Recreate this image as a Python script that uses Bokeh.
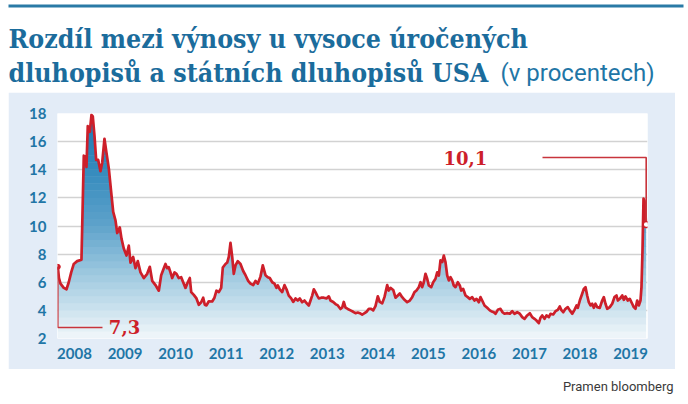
import numpy as np
from bokeh.plotting import figure
from bokeh.layouts import column, row
from bokeh.models import Range1d, FixedTicker, Label, Spacer
from bokeh.core.properties import value
from bokeh.embed import file_html
from bokeh.resources import INLINE

# ---------------- data ----------------
dates = [
    2007.670, 2007.693, 2007.723, 2007.788, 2007.842, 2007.887, 2007.935, 2007.986, 2008.053, 2008.138,
    2008.184, 2008.218, 2008.237, 2008.263, 2008.303, 2008.336, 2008.362, 2008.396, 2008.429, 2008.469,
    2008.514, 2008.548, 2008.593, 2008.633, 2008.679, 2008.726, 2008.766, 2008.811, 2008.845, 2008.896,
    2008.930, 2008.975, 2009.029, 2009.074, 2009.108, 2009.161, 2009.207, 2009.252, 2009.306, 2009.371,
    2009.438, 2009.490, 2009.537, 2009.602, 2009.668, 2009.715,
    2009.767, 2009.800, 2009.834, 2009.865, 2009.899, 2009.933, 2009.978, 2010.018, 2010.063, 2010.111,
    2010.150, 2010.196, 2010.241, 2010.281, 2010.309, 2010.360, 2010.413, 2010.459, 2010.506, 2010.546,
    2010.578, 2010.611, 2010.657, 2010.724, 2010.769, 2010.809, 2010.855, 2010.902, 2010.934, 2010.987,
    2011.021, 2011.052, 2011.086, 2011.120, 2011.151, 2011.185, 2011.230, 2011.284, 2011.337, 2011.383,
    2011.436, 2011.482, 2011.535, 2011.581, 2011.626, 2011.679, 2011.725, 2011.778, 2011.824, 2011.863,
    2011.911, 2011.956, 2011.996, 2012.022, 2012.061, 2012.109, 2012.154, 2012.194, 2012.239, 2012.287,
    2012.326, 2012.372, 2012.417, 2012.457, 2012.504, 2012.550, 2012.603, 2012.635, 2012.669, 2012.702,
    2012.734, 2012.767, 2012.801, 2012.833, 2012.880, 2012.932, 2012.985, 2013.031, 2013.064, 2013.118,
    2013.163, 2013.209, 2013.262, 2013.296, 2013.327, 2013.361, 2013.406, 2013.460, 2013.513, 2013.559,
    2013.604, 2013.644, 2013.691, 2013.737, 2013.776, 2013.822, 2013.869, 2013.909, 2013.954, 2014.000,
    2014.039, 2014.087,
    2014.132, 2014.186, 2014.217, 2014.251, 2014.305, 2014.350, 2014.396, 2014.435, 2014.482, 2014.528,
    2014.581, 2014.633, 2014.680, 2014.726, 2014.765, 2014.811, 2014.845, 2014.878, 2014.910, 2014.943,
    2014.977, 2015.009, 2015.056, 2015.096, 2015.141, 2015.175, 2015.207, 2015.240, 2015.274, 2015.306,
    2015.339, 2015.373, 2015.405, 2015.438, 2015.472, 2015.503, 2015.537, 2015.582, 2015.622, 2015.650,
    2015.689, 2015.735, 2015.780, 2015.820, 2015.867, 2015.913, 2015.952, 2015.998, 2016.031, 2016.065,
    2016.111, 2016.164, 2016.216,
    2016.243, 2016.295, 2016.328, 2016.374, 2016.427, 2016.467, 2016.506, 2016.560, 2016.611, 2016.659,
    2016.704, 2016.758, 2016.809, 2016.856, 2016.902, 2016.955, 2017.007, 2017.054, 2017.100, 2017.139,
    2017.185, 2017.218, 2017.252, 2017.298, 2017.337, 2017.383, 2017.416, 2017.470, 2017.515, 2017.561,
    2017.600, 2017.628, 2017.668, 2017.713, 2017.758, 2017.798, 2017.846, 2017.891, 2017.931, 2017.956,
    2017.996, 2018.043, 2018.075, 2018.109, 2018.142, 2018.174, 2018.207, 2018.241, 2018.273, 2018.306,
    2018.340, 2018.391,
    2018.439, 2018.471, 2018.504, 2018.538, 2018.589, 2018.637, 2018.682, 2018.722, 2018.748, 2018.787,
    2018.835, 2018.866, 2018.900, 2018.945, 2018.985, 2019.032, 2019.064, 2019.098, 2019.131, 2019.163,
    2019.196, 2019.216, 2019.236, 2019.256, 2019.276, 2019.309,
]
spread = [
    7.1, 6.3, 5.9, 5.6, 5.5, 6.0, 6.7, 7.3, 7.5, 7.6,
    15.0, 14.9, 14.2, 17.1, 16.7, 17.9, 17.8, 16.4, 14.7, 14.7,
    13.9, 14.5, 16.2, 15.2, 14.1, 12.4, 11.0, 10.4, 9.5, 9.9,
    9.1, 8.4, 7.9, 8.6, 7.4, 7.8, 7.0, 7.5, 6.7, 6.3,
    6.6, 7.1, 6.1, 5.8, 5.4, 6.5,
    7.0, 7.3, 7.0, 7.07, 6.7, 6.3, 6.7, 6.6, 6.3, 6.36,
    6.0, 5.6, 6.0, 6.3, 5.3, 5.1, 4.85, 4.4, 4.58, 4.9,
    4.4, 4.35, 4.65, 4.63, 4.9, 5.4, 5.3, 5.6, 7.05, 7.3,
    7.4, 7.8, 8.8, 7.8, 6.6, 7.2, 7.5, 7.3, 6.8, 6.5,
    6.1, 5.9, 5.8, 6.1, 5.9, 6.4, 7.2, 6.5, 6.36, 6.3,
    6.0, 5.9, 5.6, 5.77, 5.5, 5.3, 5.8, 5.5, 5.05, 4.85,
    4.6, 4.85, 4.7, 4.85, 4.58, 4.7, 4.47, 4.35, 4.7, 5.05,
    5.5, 5.3, 5.05, 4.85, 4.9, 4.9, 4.85, 5.0, 4.7, 4.6,
    4.45, 4.35, 4.1, 4.2, 4.6, 4.2, 4.1, 4.0, 3.9, 3.8,
    3.85, 3.8, 3.7, 3.8, 3.9, 4.1, 4.1, 4.0, 4.3, 5.0,
    4.6, 4.5,
    4.94, 5.8, 5.41, 5.6, 5.45, 4.9, 5.06, 5.2, 4.94, 4.75,
    4.58, 4.7, 4.94, 5.3, 5.41, 5.65, 6.0, 5.65, 6.0, 6.6,
    6.25, 5.77, 5.65, 6.0, 6.25, 6.7, 6.48, 7.55, 7.43, 7.9,
    7.43, 6.48, 6.13, 6.36, 6.13, 5.77, 5.65, 6.0, 5.77, 5.41,
    5.53, 5.06, 4.94, 4.82, 4.94, 4.7, 4.82, 4.58, 4.94, 4.7,
    4.35, 4.18, 4.0,
    3.94, 3.87, 3.76, 4.04, 4.11, 3.87, 3.76, 3.8, 3.76, 3.94,
    3.76, 3.87, 3.76, 3.52, 3.4, 3.64, 3.8, 3.52, 3.4, 3.28,
    3.09, 3.47, 3.64, 3.4, 3.64, 3.52, 3.76, 3.71, 3.94, 4.04,
    4.28, 4.04, 3.87, 4.11, 4.23, 4.0, 3.76, 4.04, 4.35, 4.18,
    4.7, 5.18, 5.53, 5.65, 5.06, 4.58, 4.35, 4.47, 4.18, 4.47,
    4.23, 4.18,
    4.7, 4.94, 4.47, 4.11, 4.23, 4.47, 4.94, 5.06, 4.7, 4.82,
    5.06, 4.75, 4.99, 4.7, 4.82, 4.47, 4.23, 4.11, 4.7, 4.35,
    4.7, 5.65, 8.26, 11.94, 11.8, 10.1,
]
year_ticks = list(range(2008, 2020))
value_ticks = list(range(2, 20, 2))
start_label = "7,3"
end_label = "10,1"
title_line1 = "Rozdíl mezi výnosy u vysoce úročených"
title_line2 = "dluhopisů a státních dluhopisů USA"
title_unit = "(v procentech)"
source_text = "Pramen bloomberg"

# ---------------- styling ----------------
RED = "#cd1f2a"
LEADER = "#c8343c"
BLUE_TXT = "#1f76a6"
TITLE_BLUE = "#1b6c9c"
PANEL = "#e3ecf7"


def blank(width, height, x_end, y_end):
    f = figure(width=width, height=height, output_backend="svg", toolbar_location=None, title=None,
               x_range=Range1d(0, x_end), y_range=Range1d(y_end, 0),
               x_axis_type=None, y_axis_type=None, min_border=0)
    f.outline_line_color = None
    f.background_fill_color = "white"
    f.border_fill_color = "white"
    f.xgrid.visible = False
    f.ygrid.visible = False
    return f


# ---------------- heading ----------------
head = blank(688, 92, 688, 92)
head.quad(left=[8], right=[683], top=[4], bottom=[7], fill_color="#2a7aa6", line_color=None)
head.text(x=[8], y=[38], text=[title_line1], text_font=value("DejaVu Serif Condensed"),
          text_font_style="bold", text_font_size="26.5px", text_color=TITLE_BLUE,
          text_baseline="alphabetic", text_align="left")
head.text(x=[8], y=[72], text=[title_line2], text_font=value("DejaVu Serif Condensed"),
          text_font_style="bold", text_font_size="26.5px", text_color=TITLE_BLUE,
          text_baseline="alphabetic", text_align="left")
head.text(x=[500], y=[72], text=[title_unit], text_font=value("Roboto"),
          text_font_size="24px", text_color=BLUE_TXT,
          text_baseline="alphabetic", text_align="left")

# ---------------- main chart ----------------
p = figure(width=667, height=277, output_backend="svg", toolbar_location=None, title=None,
           x_range=Range1d(2007.664, 2019.335), y_range=Range1d(2, 18),
           min_border_left=49, min_border_right=28, min_border_top=21, min_border_bottom=31)
p.outline_line_color = None
p.border_fill_color = PANEL
p.background_fill_color = "white"

p.xaxis.ticker = FixedTicker(ticks=year_ticks)
p.xaxis.major_label_overrides = {y: str(y) for y in year_ticks}
p.yaxis.ticker = FixedTicker(ticks=value_ticks)
for ax in (p.xaxis, p.yaxis):
    ax.axis_line_color = None
    ax.major_tick_line_color = None
    ax.minor_tick_line_color = None
    ax.major_tick_out = 0
    ax.major_tick_in = 0
    ax.major_label_text_font = "Lato"
    ax.major_label_text_font_style = "bold"
    ax.major_label_text_font_size = "15px"
    ax.major_label_text_color = BLUE_TXT
p.xaxis.major_label_standoff = 9
p.yaxis.major_label_standoff = 11
p.xgrid.visible = False
p.ygrid.ticker = FixedTicker(ticks=value_ticks)
p.ygrid.grid_line_color = "#d2d2d2"
p.ygrid.grid_line_width = 1.5

# gradient fill under the line (horizontal colour bands)
xs = np.array(dates)
ys = np.array(spread)
fine_x = np.linspace(xs[0], xs[-1], 3000)
fine_y = np.interp(fine_x, xs, ys)
levels = np.arange(2.0, 18.01, 0.5)
stop_v = [2, 4, 7, 10, 14, 18]
stop_rgb = [(242, 247, 251), (205, 227, 238), (150, 196, 221), (95, 163, 203), (52, 138, 189), (32, 120, 176)]
for a, b in zip(levels[:-1], levels[1:]):
    mid = 0.5 * (a + b)
    rgb = tuple(int(round(np.interp(mid, stop_v, [c[i] for c in stop_rgb]))) for i in range(3))
    col = "#%02x%02x%02x" % rgb
    p.varea(x=fine_x, y1=np.full_like(fine_y, a), y2=np.clip(fine_y, a, b + 0.04),
            fill_color=col, fill_alpha=1.0)

p.line(dates, spread, line_color=RED, line_width=2.7, line_join="round")

# leader for the first value
p.line([dates[0], dates[0], 2008.554], [spread[0], 2.78, 2.78], line_color=LEADER, line_width=1.6)
p.scatter([dates[0]], [spread[0]], size=5, fill_color=RED, line_color=RED)
p.add_layout(Label(x=2008.68, y=2.79, text=start_label, text_font="DejaVu Serif",
                   text_font_style="bold", text_font_size="18px", text_color=RED,
                   text_baseline="alphabetic", text_align="left"))

# leader for the last value
p.line([dates[-1], dates[-1], 2017.258], [spread[-1], 14.87, 14.87], line_color=LEADER, line_width=1.6)
p.scatter([dates[-1]], [spread[-1]], size=6, fill_color="white", line_color=RED, line_width=1.5)
p.add_layout(Label(x=2015.300, y=14.81, text=end_label, text_font="DejaVu Serif",
                   text_font_style="bold", text_font_size="18px", text_color=RED,
                   text_baseline="alphabetic", text_align="left"))

# ---------------- footer ----------------
foot = blank(688, 35, 688, 35)
foot.text(x=[673], y=[17], text=[source_text], text_font=value("Roboto"),
          text_font_size="13px", text_color="#3a3a3a",
          text_baseline="alphabetic", text_align="right")

layout = column(head,
                row(Spacer(width=8, height=277), p, Spacer(width=13, height=277), spacing=0),
                foot, spacing=0)

open("out.html", "w").write(file_html(layout, INLINE))
